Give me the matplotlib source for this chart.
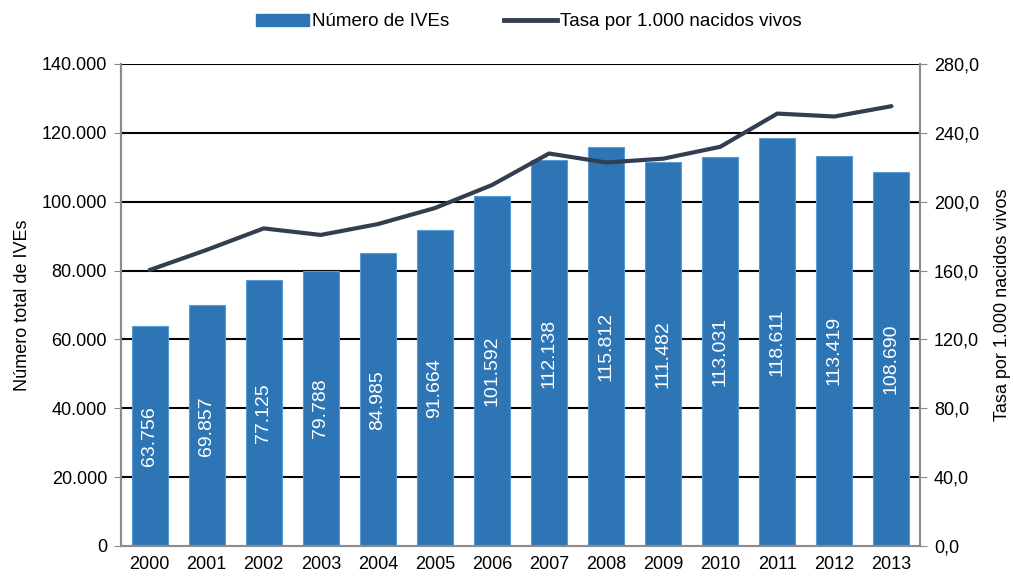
import matplotlib
matplotlib.use("Agg")
import matplotlib.pyplot as plt
from matplotlib.ticker import FuncFormatter
from matplotlib.patches import Patch
from matplotlib.lines import Line2D

years = ["2000", "2001", "2002", "2003", "2004", "2005", "2006",
         "2007", "2008", "2009", "2010", "2011", "2012", "2013"]
ives = [63756, 69857, 77125, 79788, 84985, 91664, 101592,
        112138, 115812, 111482, 113031, 118611, 113419, 108690]
tasa = [160.3, 172.0, 184.5, 180.7, 187.0, 196.3, 209.7,
        228.0, 222.8, 225.0, 231.9, 251.2, 249.5, 255.5]

plt.rcParams['font.family'] = ['Liberation Sans', 'DejaVu Sans']

bar_color = "#2E75B6"
line_color = "#333F50"
spine_color = "#8C8C8C"

fig = plt.figure(figsize=(10.13, 5.77), dpi=100)
ax = fig.add_axes([121/1013, 1-546/577, (920-121)/1013, (546-64)/577])
ax2 = ax.twinx()

x = list(range(len(years)))
ax.set_zorder(1)
ax2.set_zorder(2)
ax.patch.set_visible(False)

ax.set_ylim(0, 140000)
ax2.set_ylim(0, 280)
ax.set_xlim(-0.5, len(years) - 0.5)

ax.set_yticks(range(0, 140001, 20000))
ax2.set_yticks(range(0, 281, 40))

def thousands(v, pos):
    return f"{int(v):,}".replace(",", ".")

ax.yaxis.set_major_formatter(FuncFormatter(thousands))
ax2.yaxis.set_major_formatter(FuncFormatter(lambda v, p: f"{v:.1f}".replace(".", ",")))

for yv in range(20000, 140001, 20000):
    ax.axhline(yv, color="black", lw=1.5, zorder=0.5)

bars = ax.bar(x, ives, width=0.63, color=bar_color, edgecolor="#5B9BD5",
              linewidth=0.8, zorder=2)
for xi, v in zip(x, ives):
    ax.text(xi, v / 2, thousands(v, None), rotation=90, ha="center",
            va="center", color="white", fontsize=14, zorder=3)

ax2.plot(x, tasa, color=line_color, lw=3, solid_capstyle="round", zorder=4)

ax.set_xticks(x)
ax.set_xticklabels(years, fontsize=13)
ax.tick_params(axis="x", length=0, pad=7)
ax.tick_params(axis="y", direction="out", length=5, color=spine_color,
               labelsize=13, pad=5)
ax2.tick_params(axis="y", direction="out", length=5, color=spine_color,
                labelsize=13, pad=5)

for a in (ax, ax2):
    a.spines["top"].set_visible(False)
    for s in ("left", "right", "bottom"):
        a.spines[s].set_color(spine_color)
        a.spines[s].set_linewidth(1.5)

ax.set_ylabel("Número total de IVEs", fontsize=13, labelpad=8)
ax2.set_ylabel("Tasa por 1.000 nacidos vivos", fontsize=13, labelpad=11)

handles = [Patch(facecolor=bar_color, edgecolor=bar_color),
           Line2D([0], [0], color=line_color, lw=3.5)]
fig.legend(handles, ["Número de IVEs", "Tasa por 1.000 nacidos vivos"],
           loc="center", bbox_to_anchor=(529/1013, 1 - 22/577), ncol=2,
           frameon=False, fontsize=13.5, handlelength=2.8, handleheight=0.55,
           columnspacing=2.9, handletextpad=0.2)

fig.savefig("out.png", dpi=100)
